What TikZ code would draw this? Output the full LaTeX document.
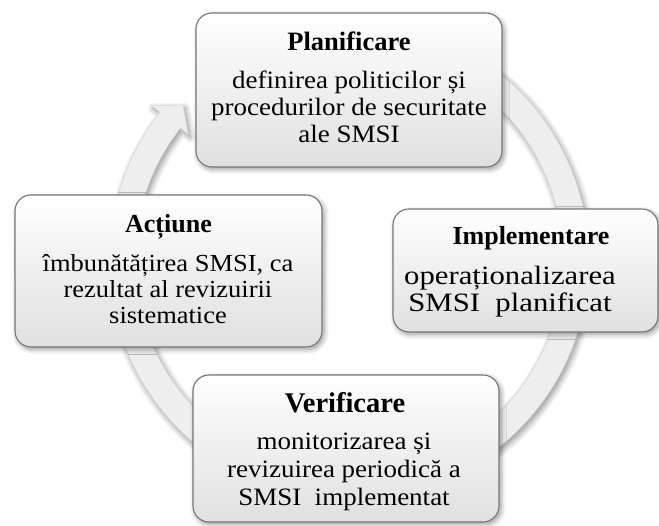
\documentclass[tikz,border=0pt]{standalone}
\usepackage{fontspec}
\setmainfont{Liberation Serif}
\newfontfamily\bodyfam[FakeStretch=1.08]{Liberation Serif}
\newfontfamily\bodyfamw[FakeStretch=1.16]{Liberation Serif}
\usetikzlibrary{calc,shadows.blur}
\definecolor{boxedge}{HTML}{767676}
\definecolor{boxbot}{HTML}{E0E0E0}
\definecolor{bandfill}{HTML}{EEEEEE}
\definecolor{bandedge}{HTML}{D4D4D4}
\begin{document}
\begin{tikzpicture}[x=1pt,y=1pt,
  softshadow/.style={blur shadow={shadow xshift=2pt, shadow yshift=-2.5pt, shadow blur radius=5pt, shadow opacity=40, shadow blur steps=8}},
  box/.style={draw=boxedge, line width=1.1pt, rounded corners=16pt, top color=white, bottom color=boxbot, inner sep=0pt, softshadow},
  ttl/.style={anchor=base, inner sep=0pt, font={\bfseries\fontsize{#1}{#1}\selectfont}},
  bdy/.style={anchor=base, inner sep=0pt, font={\bodyfam\fontsize{#1}{#1}\selectfont}},
  bdyw/.style={anchor=base, inner sep=0pt, font={\bodyfamw\fontsize{#1}{#1}\selectfont}},
  band/.style={fill=bandfill, draw=bandedge, line width=0.5pt, blur shadow={shadow xshift=2pt, shadow yshift=-3pt, shadow blur radius=6pt, shadow opacity=45, shadow blur steps=8}}
]
\useasboundingbox (0,0) rectangle (659,526);
\coordinate (c) at (349,266);
% circular arrow behind the boxes
\path[band] ($(c)+(70:240)$) arc[start angle=70, end angle=-218, radius=240]
  -- ($(c)+(-218:251)$) -- ($(c)+(-223:227)$) -- ($(c)+(-218:204)$) -- ($(c)+(-218:214)$)
  arc[start angle=-218, end angle=70, radius=214] -- cycle;
% boxes
\node[box, minimum width=306pt, minimum height=154pt] (plan) at (349,436) {};
\node[box, minimum width=265pt, minimum height=123pt] (impl) at (525.5,255.5) {};
\node[box, minimum width=307pt, minimum height=152pt] (act) at (168.5,255) {};
\node[box, minimum width=306pt, minimum height=147pt] (ver) at (346,77.5) {};
% Planificare
\node[ttl=26.5] (p0) at (349,475) {Planificare};
\node[bdy=25] (p1) at (349,437) {definirea politicilor și};
\node[bdy=25] (p2) at (349,410) {procedurilor de securitate};
\node[bdy=25] (p3) at (349,383) {ale SMSI};
% Implementare
\node[ttl=26] (i0) at (531,281) {Implementare};
\node[bdyw=26.5] (i1) at (510,241) {operaționalizarea};
\node[bdyw=26.5] (i2) at (510,214) {SMSI\ \ planificat};
% Actiune
\node[ttl=26] (a0) at (168.5,293) {Acțiune};
\node[bdy=24.5] (a1) at (168,254) {îmbunătățirea SMSI, ca};
\node[bdy=24.5] (a2) at (168,228) {rezultat al revizuirii};
\node[bdy=24.5] (a3) at (168,202) {sistematice};
% Verificare
\node[ttl=28.5] (v0) at (345,113) {Verificare};
\node[bdy=25] (v1) at (344,76) {monitorizarea și};
\node[bdy=25] (v2) at (344,48) {revizuirea periodică a};
\node[bdy=25] (v3) at (344,20) {SMSI\ \ implementat};
\end{tikzpicture}
\end{document}
